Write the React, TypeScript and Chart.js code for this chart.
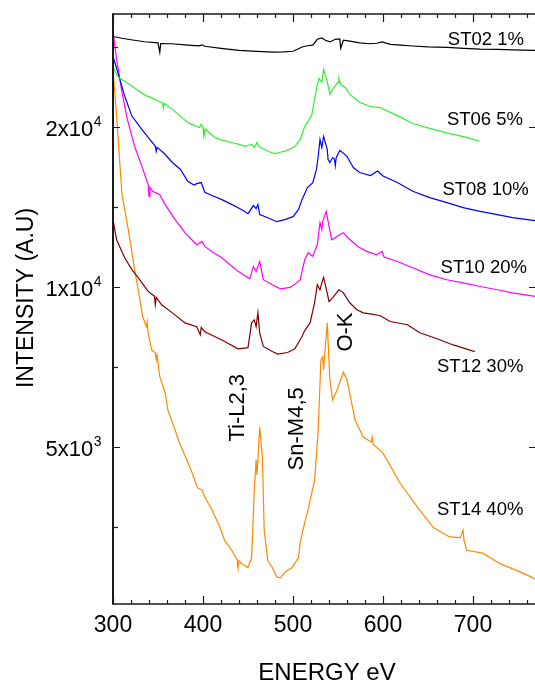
import React, { useEffect, useRef } from "react";
import { Chart, registerables } from "chart.js";

Chart.register(...registerables);

// ---------- data (energy in eV, intensity in a.u.) ----------
const st02Energy = [300,310,320,335,350,352,353,365,380,395,399,402,420,440,460,478,490,500,505,510,516,522,527,532,536,541,547,552,553,556,563,574,585,593,599,608,620,633,650,671,690,708,727,744,769];
const st02Intensity = [29600,29370,29180,28930,28790,27640,28700,28680,28550,28430,28550,28370,28120,27880,27760,27670,27700,27760,28000,28280,28430,28500,29240,29410,29120,28910,29240,29280,28120,29120,29000,28790,28680,28740,28910,28610,28500,28400,28300,28240,28120,28030,28000,27940,27880];

const st06Energy = [300,306,313,321,328,336,343,350,355,356,357,366,375,383,390,396,398,400,401,403,413,422,432,440,447,454,457,460,462,466,473,480,485,491,496,502,508,513,518,521,524,527,529,532,534,536,538,541,544,550,551,553,558,563,574,586,597,608,620,633,652,671,693,707];
const st06Intensity = [25900,24800,24370,23870,23430,22930,22680,22370,22200,21670,22150,21580,20930,20390,20130,19950,20230,19950,19190,19780,19100,18860,18690,18540,18390,18540,18300,18690,18380,18210,17980,17820,17900,18000,18140,18370,18940,20040,20660,21110,22530,24050,24690,24260,25670,25010,24370,23030,23530,24260,24690,24000,23740,23030,22250,21850,21750,21300,20840,20300,19870,19490,19110,18790];

const st08Energy = [300,306,313,321,332,340,347,348,349,357,366,375,383,390,393,398,402,410,421,430,439,445,450,456,459,461,463,472,482,491,500,506,510,516,522,526,528,530,532,534,538,539,541,544,546,547,548,552,556,560,567,574,586,594,600,616,633,652,671,689,708,727,744,769];
const st08Intensity = [27160,25120,22860,20960,19780,19020,18390,17980,18300,17820,17140,16630,15800,15540,15640,15710,15060,14850,14590,14340,14090,13910,13730,14220,14030,14280,13670,13490,13260,13380,13550,13970,14590,15370,15710,16630,17590,18940,18290,19190,18140,17360,17140,17510,17400,16900,17500,18060,17850,17590,16770,16410,16200,16520,16170,15710,15130,14720,14400,14090,13870,13670,13490,13320];

const st10Energy = [300,304,310,316,324,332,339,340,341,344,352,358,369,380,393,399,402,410,421,430,439,452,456,459,463,467,477,486,497,504,508,511,513,517,522,527,530,532,533,537,539,543,547,552,556,561,572,582,593,599,601,616,633,652,671,689,708,727,744,769];
const st10Intensity = [30280,26810,23230,20660,18390,16870,15570,14790,15400,15130,14910,14280,13380,12640,12000,12180,11910,11640,11340,11000,10690,10350,10920,10690,11160,10310,10090,9910,9970,10170,10310,10860,11240,11590,11410,12000,13200,12810,13280,13870,13280,12260,12370,12540,12640,12370,11910,11660,11490,11660,11390,11160,10860,10530,10310,10170,10010,9870,9740,9590];

const st12Energy = [300,304,313,321,328,339,346,347,348,354,366,380,393,397,398,402,421,439,450,454,457,459,461,463,467,477,483,494,502,510,513,519,524,527,530,532,534,538,540,544,551,556,563,571,578,586,597,608,627,641,660,678,694,702];
const st12Intensity = [13380,12260,11340,10770,10400,9800,9600,9250,9550,9250,8930,8550,8410,8120,8380,8230,7940,7640,7680,8550,8660,8410,8940,8190,7720,7550,7470,7520,7640,8060,8270,8550,9330,10090,9870,10170,10410,9740,9380,9530,9870,9740,9330,9050,8930,8890,8820,8600,8480,8190,7980,7770,7620,7550];

const st14Energy = [300,303,306,310,317,324,328,333,337,338,339,343,347,348,349,352,358,361,369,374,382,388,394,399,402,410,419,424,432,438,439,440,443,450,454,457,459,460,463,466,468,472,477,482,486,491,499,506,508,511,516,524,528,531,533,534,538,541,544,549,556,560,569,578,587,588,589,600,619,638,656,674,686,689,690,693,711,730,749,767,770];
const st14Intensity = [25600,22050,18690,14910,12810,10770,9870,8790,8410,8590,8200,7600,7510,7280,7440,6770,6310,5860,5370,5080,4720,4460,4180,4140,4020,3800,3520,3330,3190,3060,2950,3050,3010,2960,3090,4140,4720,4420,5440,4780,3480,3050,2960,2840,2830,2900,2960,3090,3290,3480,3760,4320,5370,7280,7380,6970,8550,6680,6120,6390,6910,6680,5610,5210,5100,5210,5050,4860,4270,3850,3520,3380,3370,3480,3330,3190,3150,3010,2920,2830,2800];

const seriesNames = ["ST02 1%", "ST06 5%", "ST08 10%", "ST10 20%", "ST12 30%", "ST14 40%"];

// axis
const xMin = 300;
const xMax = 770;
const yMin = 2527;
const yMax = 32630;
const xMajorTicks = [300, 400, 500, 600, 700];
const xMinorTicks = [320,340,360,380,420,440,460,480,520,540,560,580,620,640,660,680,720,740,760];
const yMajorTicks = [5000, 10000, 20000];
const yTickMantissa = ["5x10", "1x10", "2x10"];
const yTickExponent = ["3", "4", "4"];
const yMinorTicks = [3536, 7071, 14142, 28284];

// annotations (data coordinates)
const seriesLabelEnergy = [672, 671, 666, 664, 660, 660];
const seriesLabelIntensity = [28530, 20170, 14900, 10620, 6920, 3720];
const edgeLabels = ["Ti-L2,3", "Sn-M4,5", "O-K"];
const edgeLabelEnergy = [445.6, 511.1, 565.6];
const edgeLabelIntensity = [5110, 4510, 7550];

const FONT = '"Liberation Sans", Arial, Helvetica, sans-serif';
const seriesColors = ["#000000", "#33EE33", "#0000FF", "#FF00FF", "#800000", "#FF8800"];

export default function App() {
  const ref = useRef<HTMLCanvasElement>(null);

  useEffect(() => {
    document.body.style.margin = "0";
    const canvas = ref.current;
    if (!canvas) return;

    const energies = [st02Energy, st06Energy, st08Energy, st10Energy, st12Energy, st14Energy];
    const intens = [st02Intensity, st06Intensity, st08Intensity, st10Intensity, st12Intensity, st14Intensity];

    const datasets = seriesNames.map((name, i) => ({
      label: name,
      data: energies[i].map((e, k) => ({ x: e, y: intens[i][k] })),
      borderColor: seriesColors[i],
      backgroundColor: seriesColors[i],
      borderWidth: 1.2,
      pointRadius: 0,
      fill: false,
      tension: 0,
    }));

    const decor = {
      id: "decor",
      afterDatasetsDraw(chart: any) {
        const ctx = chart.ctx as CanvasRenderingContext2D;
        const { left, right, top, bottom } = chart.chartArea;
        const xs = chart.scales.x;
        const ys = chart.scales.y;
        ctx.save();
        ctx.strokeStyle = "#1a1a1a";
        ctx.fillStyle = "#000";

        // frame
        ctx.lineWidth = 1.5;
        ctx.beginPath();
        ctx.moveTo(left, top); ctx.lineTo(right, top);
        ctx.moveTo(left, bottom); ctx.lineTo(right, bottom);
        ctx.moveTo(right, top); ctx.lineTo(right, bottom);
        ctx.stroke();
        ctx.lineWidth = 2;
        ctx.beginPath();
        ctx.moveTo(left, top - 0.75); ctx.lineTo(left, bottom + 0.75);
        ctx.stroke();

        // x ticks (bottom and top, inward)
        ctx.lineWidth = 1.2;
        const drawX = (v: number, len: number) => {
          const px = Math.round(xs.getPixelForValue(v)) + 0.5;
          ctx.beginPath();
          ctx.moveTo(px, bottom); ctx.lineTo(px, bottom - len);
          ctx.moveTo(px, top); ctx.lineTo(px, top + len);
          ctx.stroke();
        };
        xMajorTicks.forEach((v) => drawX(v, 8));
        xMinorTicks.forEach((v) => drawX(v, 4));

        // y ticks
        const drawY = (v: number, len: number, rightSide: boolean) => {
          const py = Math.round(ys.getPixelForValue(v)) + 0.5;
          ctx.beginPath();
          ctx.moveTo(left, py); ctx.lineTo(left + len, py);
          if (rightSide) { ctx.moveTo(right, py); ctx.lineTo(right - len, py); }
          ctx.stroke();
        };
        yMajorTicks.forEach((v) => drawY(v, 7, true));
        yMinorTicks.forEach((v) => drawY(v, 5, false));

        // x labels
        ctx.font = `23px ${FONT}`;
        ctx.textAlign = "center";
        ctx.textBaseline = "alphabetic";
        xMajorTicks.forEach((v) => {
          ctx.fillText(String(v), xs.getPixelForValue(v), bottom + 28);
        });

        // y labels with superscripts
        yMajorTicks.forEach((v, i) => {
          const py = ys.getPixelForValue(v);
          ctx.font = `22px ${FONT}`;
          const wb = ctx.measureText(yTickMantissa[i]).width;
          ctx.font = `14px ${FONT}`;
          const we = ctx.measureText(yTickExponent[i]).width;
          const x0 = left - 12 - wb - we;
          ctx.textAlign = "left";
          ctx.font = `22px ${FONT}`;
          ctx.fillText(yTickMantissa[i], x0, py + 9);
          ctx.font = `14px ${FONT}`;
          ctx.fillText(yTickExponent[i], x0 + wb + 0.5, py - 1);
        });

        // axis titles
        ctx.font = `24px ${FONT}`;
        ctx.textAlign = "center";
        ctx.fillText("ENERGY eV", 327, 680);
        ctx.save();
        ctx.translate(33, 298);
        ctx.rotate(-Math.PI / 2);
        ctx.font = `23px ${FONT}`;
        ctx.fillText("INTENSITY (A.U)", 0, 0);
        ctx.restore();

        // series labels
        ctx.font = `18.5px ${FONT}`;
        ctx.textAlign = "left";
        seriesNames.forEach((n, i) => {
          ctx.fillText(n, xs.getPixelForValue(seriesLabelEnergy[i]), ys.getPixelForValue(seriesLabelIntensity[i]));
        });

        // edge labels (vertical)
        ctx.font = `22px ${FONT}`;
        edgeLabels.forEach((t, i) => {
          ctx.save();
          ctx.translate(xs.getPixelForValue(edgeLabelEnergy[i]), ys.getPixelForValue(edgeLabelIntensity[i]));
          ctx.rotate(-Math.PI / 2);
          ctx.textAlign = "left";
          ctx.fillText(t, 0, 0);
          ctx.restore();
        });

        ctx.restore();
      },
    };

    const chart = new Chart(canvas, {
      type: "line",
      data: { datasets } as any,
      options: {
        responsive: false,
        animation: false,
        devicePixelRatio: 1,
        layout: { padding: { left: 113, right: 1, top: 14, bottom: 80 } },
        plugins: { legend: { display: false }, tooltip: { enabled: false } },
        elements: { point: { radius: 0 } },
        scales: {
          x: { type: "linear", min: xMin, max: xMax, display: false },
          y: { type: "logarithmic", min: yMin, max: yMax, display: false },
        },
      } as any,
      plugins: [decor],
    });

    return () => chart.destroy();
  }, []);

  return (
    <div style={{ width: 535, height: 684, overflow: "hidden", position: "relative" }}>
      <canvas ref={ref} width={537} height={684} style={{ display: "block" }} />
    </div>
  );
}
